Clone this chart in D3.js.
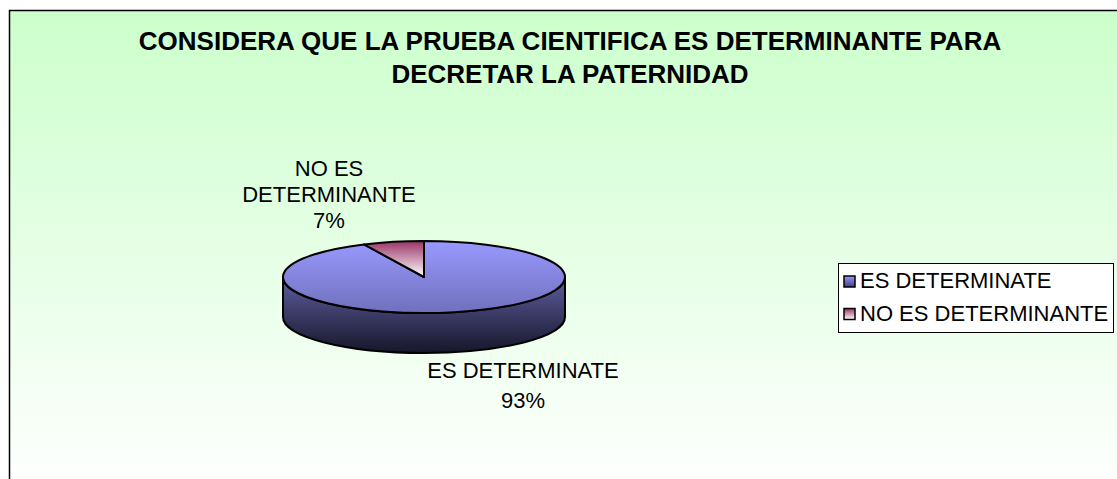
<!DOCTYPE html>
<html>
<head>
<meta charset="utf-8">
<script src="https://cdn.jsdelivr.net/npm/d3@7"></script>
<style>
html,body{margin:0;padding:0;background:#fff;}
svg{display:block;}
text{font-family:"Liberation Sans",Arial,sans-serif;fill:#000;}
</style>
</head>
<body>
<svg id="chart" width="1117" height="479"></svg>
<script>
// ---- data ----
const titleLines = ["CONSIDERA QUE LA PRUEBA CIENTIFICA ES DETERMINANTE PARA", "DECRETAR LA PATERNIDAD"];
const categories = ["ES DETERMINATE", "NO ES DETERMINANTE"];
const values = [93, 7];
const labelLines = [["ES DETERMINATE", "93%"], ["NO ES", "DETERMINANTE", "7%"]];

const W = 1117, H = 479;
const svg = d3.select("#chart");
const defs = svg.append("defs");

// background gradient
const bg = defs.append("linearGradient").attr("id","bg").attr("x1",0).attr("y1",0).attr("x2",0).attr("y2",1);
bg.append("stop").attr("offset","0%").attr("stop-color","#ccffcc");
bg.append("stop").attr("offset","100%").attr("stop-color","#ffffff");

svg.append("rect").attr("x",9.5).attr("y",10.5).attr("width",W).attr("height",H)
  .attr("fill","url(#bg)").attr("stroke","#000").attr("stroke-width",1.5);

// title
svg.append("g").selectAll("text").data(titleLines).join("text")
  .attr("x",570).attr("y",(d,i)=>50+i*33)
  .attr("text-anchor","middle").attr("font-weight","bold").attr("font-size",26)
  .text(d=>d);

// pie geometry
const cx = 424, cy = 277, rx = 141, ry = 36, depth = 40;
const pie = d3.pie().sort(null).startAngle(0).endAngle(2*Math.PI);
const arcs = pie(values);

const colorsTop = [["#9999ff","#7070bc"],["#993366","#ffffff"]];
const gTop = colorsTop.map((c,i)=>{
  const g = defs.append("linearGradient").attr("id","top"+i).attr("gradientUnits","userSpaceOnUse")
    .attr("x1",0).attr("y1",cy-ry).attr("x2",0).attr("y2", i===0 ? cy+ry : cy);
  g.append("stop").attr("offset","0%").attr("stop-color",c[0]);
  g.append("stop").attr("offset","100%").attr("stop-color",c[1]);
  return "url(#top"+i+")";
});
const side = defs.append("linearGradient").attr("id","side").attr("gradientUnits","userSpaceOnUse")
  .attr("x1",0).attr("y1",cy).attr("x2",0).attr("y2",cy+ry+depth);
side.append("stop").attr("offset","0%").attr("stop-color","#5e5ea0");
side.append("stop").attr("offset","100%").attr("stop-color","#16162a");

const pt = (a, dy=0) => [cx + rx*Math.sin(a), cy - ry*Math.cos(a) + dy];

function topPath(d){
  const p0 = pt(d.startAngle), p1 = pt(d.endAngle);
  const large = (d.endAngle - d.startAngle) > Math.PI ? 1 : 0;
  return `M${cx},${cy}L${p0[0]},${p0[1]}A${rx},${ry} 0 ${large} 1 ${p1[0]},${p1[1]}Z`;
}
function sidePath(d){
  const a0 = Math.max(d.startAngle, Math.PI/2), a1 = Math.min(d.endAngle, 3*Math.PI/2);
  if (a1 <= a0) return null;
  const p0 = pt(a0), p1 = pt(a1), q1 = pt(a1, depth), q0 = pt(a0, depth);
  return `M${p0[0]},${p0[1]}A${rx},${ry} 0 0 1 ${p1[0]},${p1[1]}L${q1[0]},${q1[1]}A${rx},${ry} 0 0 0 ${q0[0]},${q0[1]}Z`;
}

const gp = svg.append("g");
gp.selectAll("path.side").data(arcs.filter(d=>sidePath(d))).join("path")
  .attr("class","side").attr("d",sidePath).attr("fill","url(#side)")
  .attr("stroke","#000").attr("stroke-width",2).attr("stroke-linejoin","round");
gp.selectAll("path.top").data(arcs).join("path")
  .attr("class","top").attr("d",topPath).attr("fill",(d,i)=>gTop[i])
  .attr("stroke","#000").attr("stroke-width",2).attr("stroke-linejoin","round");

// data labels
const labelPos = [[523,378],[329,176]];
labelLines.forEach((lines,i)=>{
  svg.append("g").selectAll("text").data(lines).join("text")
    .attr("x",labelPos[i][0]).attr("y",(d,j)=>labelPos[i][1]+j*(i===0?30:26))
    .attr("text-anchor","middle").attr("font-size",22).text(d=>d);
});

// legend
const lg = svg.append("g");
lg.append("rect").attr("x",838.5).attr("y",263.5).attr("width",275).attr("height",69)
  .attr("fill","#fff").attr("stroke","#000").attr("stroke-width",1);
const swGrad = [["#9999ff","#404080"],["#993366","#ffffff"]];
swGrad.forEach((c,i)=>{
  const g = defs.append("linearGradient").attr("id","sw"+i).attr("x1",0).attr("y1",0).attr("x2",0).attr("y2",1);
  g.append("stop").attr("offset","0%").attr("stop-color",c[0]);
  g.append("stop").attr("offset","100%").attr("stop-color",c[1]);
});
const items = lg.selectAll("g.item").data(categories).join("g").attr("class","item")
  .attr("transform",(d,i)=>`translate(0,${i*32.5})`);
items.append("rect").attr("x",844).attr("y",276).attr("width",11).attr("height",11)
  .attr("fill",(d,i)=>`url(#sw${i})`).attr("stroke","#000").attr("stroke-width",1.5);
items.append("text").attr("x",860).attr("y",288).attr("font-size",22).text(d=>d);
</script>
</body>
</html>
